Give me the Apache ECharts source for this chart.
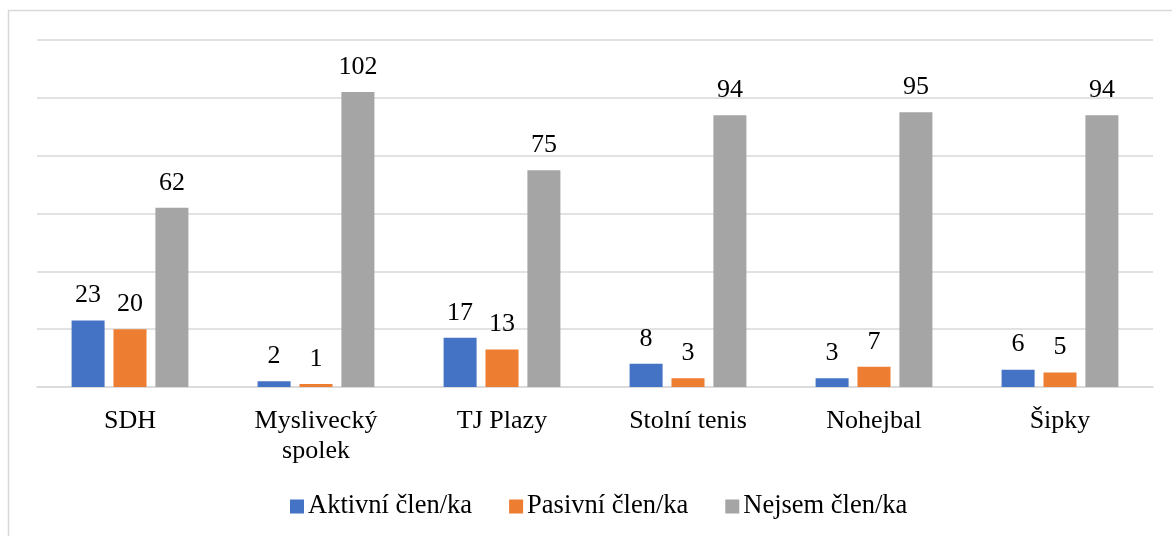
<!DOCTYPE html>
<html>
<head>
<meta charset="utf-8">
<script src="https://cdn.jsdelivr.net/npm/echarts@6/dist/echarts.min.js"></script>
<style>
  html, body { margin: 0; padding: 0; background: #fff; }
  #chart { width: 1172px; height: 536px; }
</style>
</head>
<body>
<div id="chart"></div>
<script>
var categories = ['SDH', 'Myslivecký\nspolek', 'TJ Plazy', 'Stolní tenis', 'Nohejbal', 'Šipky'];
var seriesNames = ['Aktivní člen/ka', 'Pasivní člen/ka', 'Nejsem člen/ka'];
var aktivni = [23, 2, 17, 8, 3, 6];
var pasivni = [20, 1, 13, 3, 7, 5];
var nejsem = [62, 102, 75, 94, 95, 94];
var colors = ['#4472c4', '#ed7d31', '#a5a5a5'];

var chart = echarts.init(document.getElementById('chart'));
var font = '"Liberation Serif", "Times New Roman", serif';

function makeSeries(name, data, color) {
    return {
        name: name,
        type: 'bar',
        data: data,
        barWidth: 33,
        barGap: '27%',
        itemStyle: { color: color },
        label: {
            show: true,
            position: 'top',
            distance: 12,
            color: '#000',
            fontFamily: font,
            fontSize: 26
        }
    };
}

chart.setOption({
    animation: false,
    color: colors,
    textStyle: { fontFamily: font },
    graphic: [{
        type: 'rect',
        shape: { x: 8.5, y: 10.5, width: 1200, height: 600 },
        style: { fill: 'none', stroke: '#d9d9d9', lineWidth: 1.5 },
        silent: true
    }],
    legend: {
        bottom: 11,
        left: 285,
        itemWidth: 14,
        itemHeight: 14,
        itemGap: 37,
        icon: 'rect',
        textStyle: { fontFamily: font, fontSize: 26.5, color: '#000', padding: [0, 0, 0, -1] },
        data: seriesNames
    },
    grid: { left: 37, right: 19, top: 40, bottom: 149, containLabel: false },
    xAxis: {
        type: 'category',
        data: categories,
        axisTick: { show: false },
        axisLine: { lineStyle: { color: '#d9d9d9', width: 1.5 } },
        axisLabel: {
            color: '#000',
            fontFamily: font,
            fontSize: 26,
            margin: 19,
            lineHeight: 30
        }
    },
    yAxis: {
        type: 'value',
        min: 0,
        max: 120,
        interval: 20,
        axisLabel: { show: false },
        axisLine: { show: false },
        axisTick: { show: false },
        splitLine: { lineStyle: { color: '#d9d9d9', width: 1.5 } }
    },
    series: [
        makeSeries(seriesNames[0], aktivni, colors[0]),
        makeSeries(seriesNames[1], pasivni, colors[1]),
        makeSeries(seriesNames[2], nejsem, colors[2])
    ]
});
</script>
</body>
</html>
